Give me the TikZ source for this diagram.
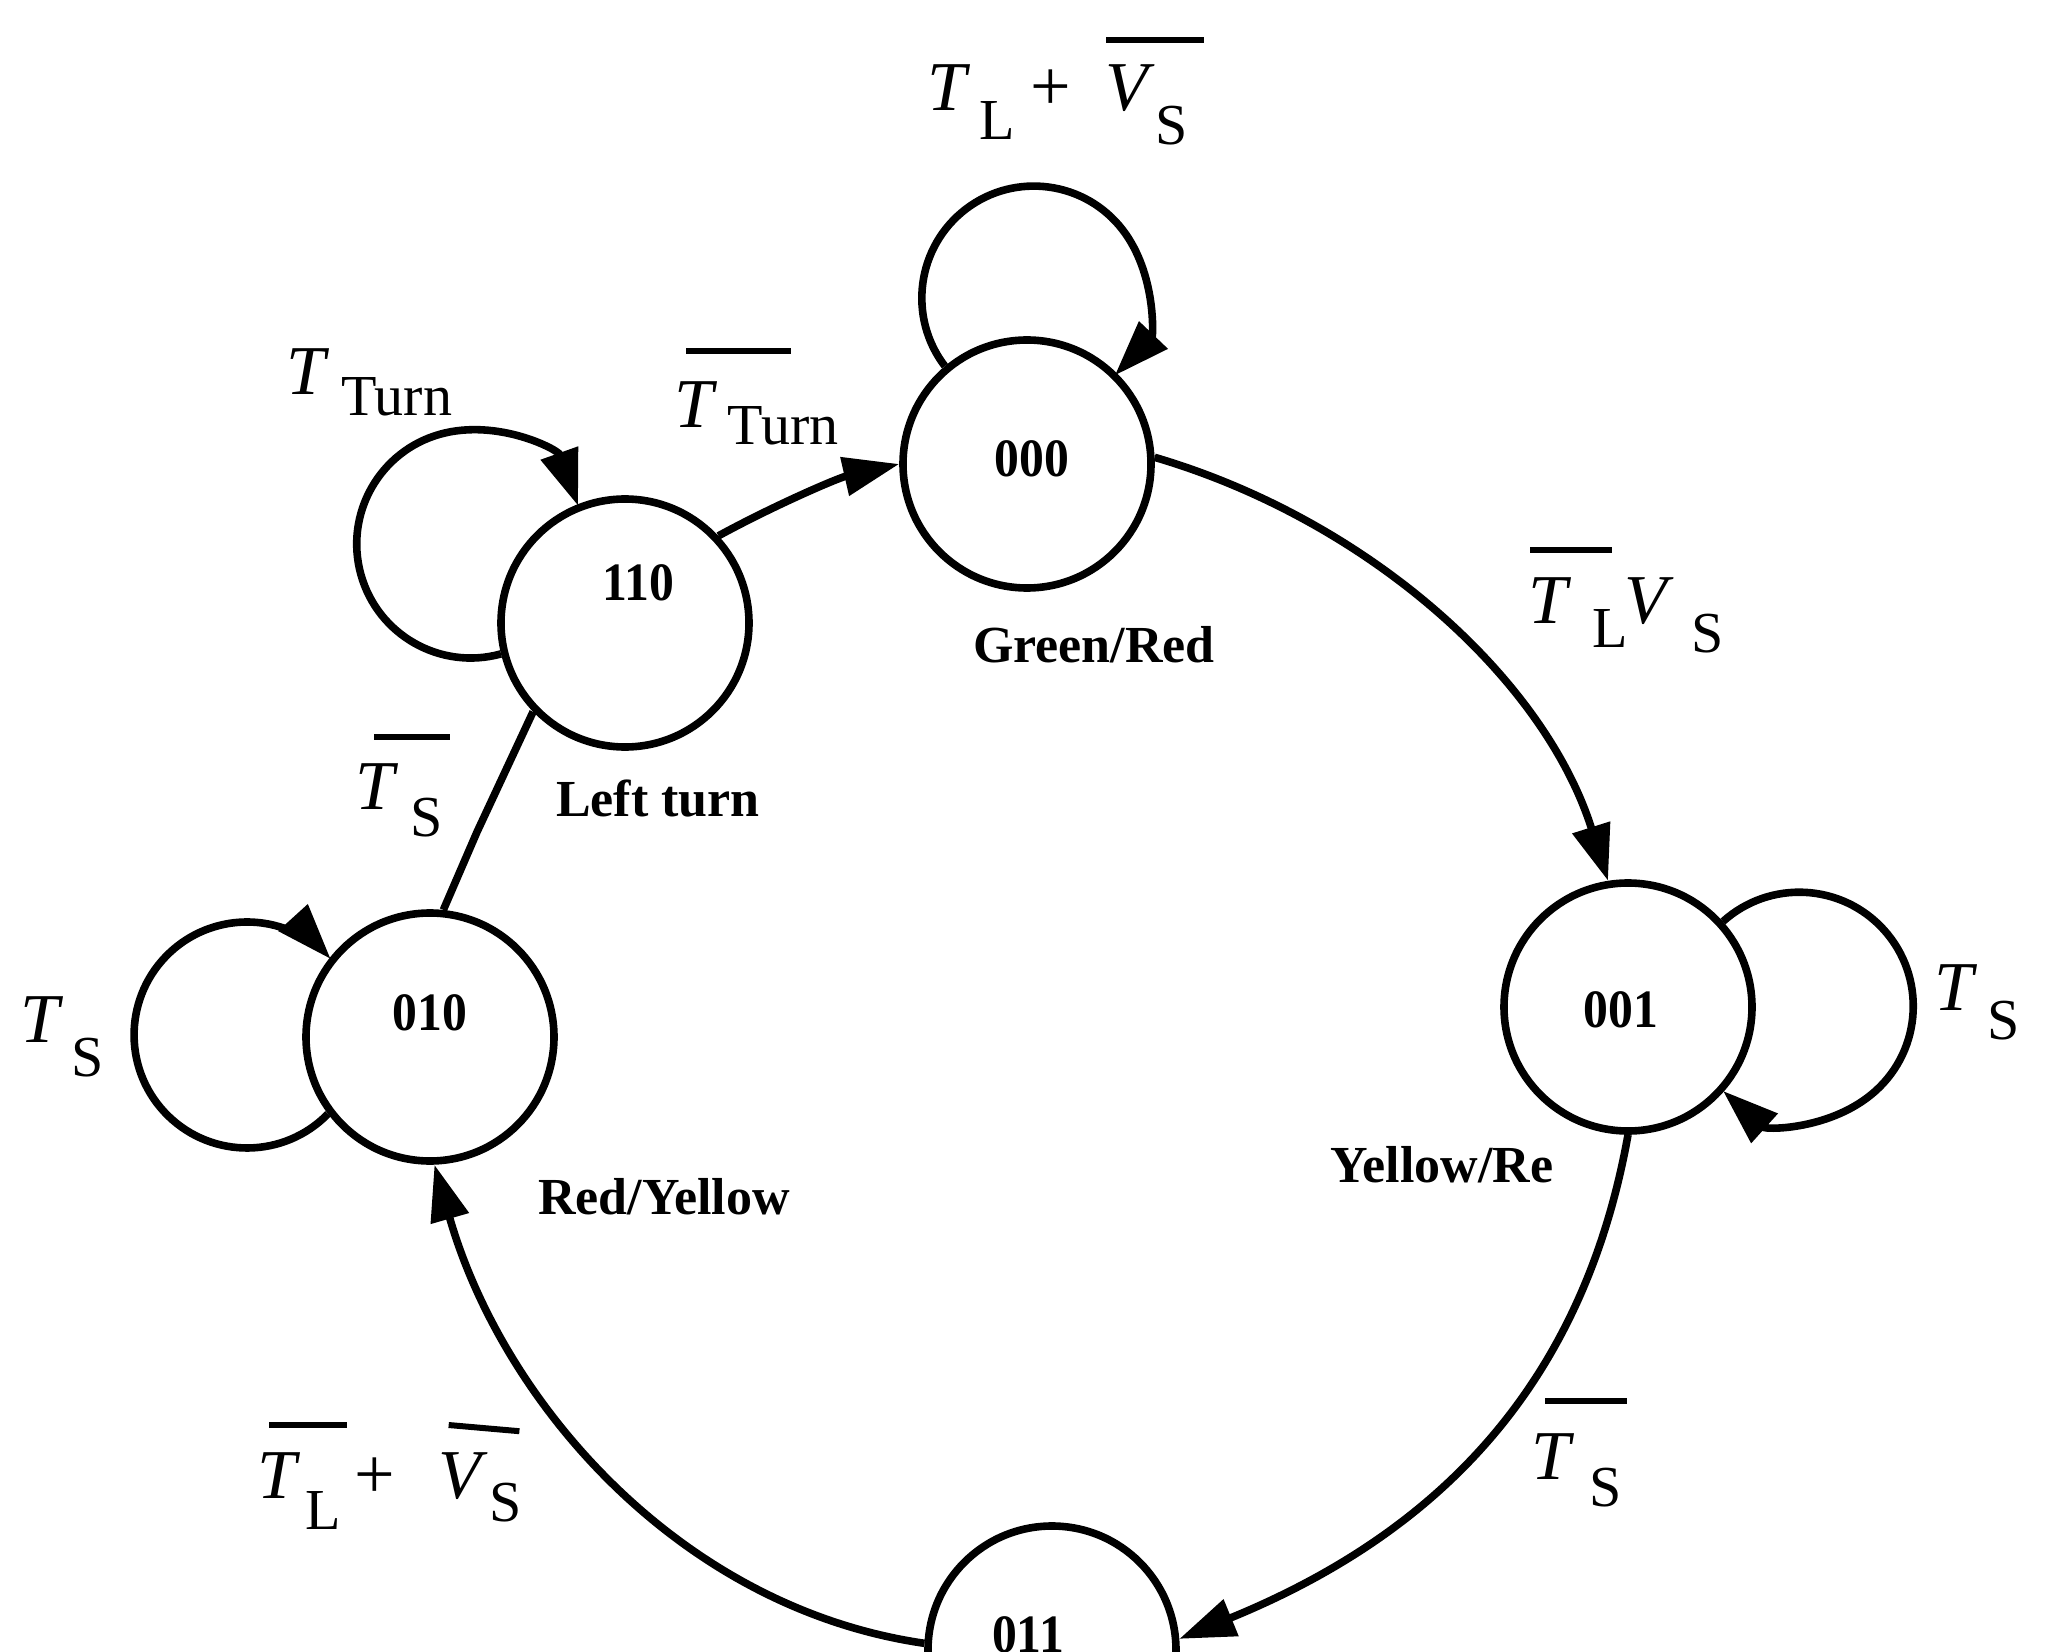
\documentclass[tikz,border=0pt]{standalone}
\usepackage{fontspec}
\usepackage{graphicx}
\setmainfont{Liberation Serif}
\usetikzlibrary{arrows.meta}
\newcommand\pc[3]{\makebox[0pt][l]{\hspace*{#1pt}\raisebox{#2pt}{#3}}}
\newcommand\mT{{\fontsize{35}{35}\selectfont\itshape T}}
\newcommand\mV{{\fontsize{35}{35}\selectfont\itshape V}}
\newcommand\mP{{\fontsize{36}{36}\selectfont +}}
\newcommand\sbx[1]{{\fontsize{29}{29}\selectfont #1}}
\newcommand\obr[1]{\rule{#1pt}{3pt}}
\newcommand\dg[1]{\scalebox{0.92}[1]{#1}}
\begin{document}
\begin{tikzpicture}[x=0.5pt,y=-0.5pt,
  st/.style={circle,draw,line width=3.8pt,minimum size=124pt,inner sep=0pt},
  num/.style={font=\fontsize{27}{27}\selectfont\bfseries,inner sep=0pt},
  nm/.style={font=\fontsize{26}{26}\selectfont\bfseries,inner sep=0pt,anchor=base},
  lab/.style={inner sep=0pt,anchor=base west},
  edge/.style={line width=3.8pt,line join=round},
  arr/.style={-{Triangle[length=28pt,width=19pt]}}]
\useasboundingbox (0,0) rectangle (2062,1652);
\fill[white] (0,0) rectangle (2062,1652);
\clip (0,0) rectangle (2062,1652);

% states
\node[st] (s000) at (1027,464) {};
\node[st] (s110) at (625,623) {};
\node[st] (s001) at (1628,1007) {};
\node[st] (s010) at (430,1037) {};
\node[st] (s011) at (1052,1650) {};

\node[num] (n000) at (1032,459) {\dg{000}};
\node[num] (n110) at (638,583) {\dg{110}};
\node[num] (n001) at (1621,1010) {\dg{001}};
\node[num] (n010) at (430,1013) {\dg{010}};
\node[num] (n011) at (1028,1635) {\dg{011}};

\node[nm] (g000) at (1094,663) {Green/Red};
\node[nm] (g110) at (658,816) {Left turn};
\node[nm] (g001) at (1442,1182) {Yellow/Re};
\node[nm] (g010) at (664,1214) {Red/Yellow};

% connectors
\draw[edge,arr] (s110.43) .. controls (775,505) and (838,478) .. (s000.180);
\draw[edge,arr] (s000.3.6) .. controls (1368,520) and (1544,678) .. (s001.99);
\draw[edge,arr] (s001.-90) .. controls (1581,1397) and (1426,1538) .. (s011.5);
\draw[edge,arr] (s011.177) .. controls (681,1608) and (503,1404) .. (s010.-88);
\coordinate (bend) at (477,832);
\draw[edge] (s110.224) -- (bend) -- (s010.84);

% self loops
\draw[edge,arr] (s000.130) arc[start angle=217.4, end angle=-43.7, radius=56pt];
\draw[edge,arr] (s110.194) arc[start angle=285.4, end angle=19.6, radius=57pt];
\draw[edge,arr] (s010.217.8) arc[start angle=315.7, end angle=42.3, radius=56.5pt];
\draw[edge,arr] (s001.42.7) arc[start angle=132, end angle=-132, radius=57pt];

% labels
\node[lab] (lA) at (926,111) {\pc{0}{0}{\mT}\pc{26}{-14.5}{\sbx{L}}\pc{51.5}{0}{\mP}\pc{89}{0}{\mV}\pc{114}{-17}{\sbx{S}}\pc{89.5}{34}{\obr{49}}};
\node[lab] (lB) at (285,395) {\pc{0}{0}{\mT}\pc{27.5}{-10.5}{\sbx{Turn}}};
\node[lab] (lC) at (673,428) {\pc{0}{0}{\mT}\pc{26.75}{-8.5}{\sbx{Turn}}\pc{6}{37}{\obr{52.5}}};
\node[lab] (lD) at (354,809) {\pc{0}{0}{\mT}\pc{27.5}{-13.5}{\sbx{S}}\pc{9.5}{34.5}{\obr{38}}};
\node[lab] (lE) at (19,1042) {\pc{0}{0}{\mT}\pc{25.5}{-17}{\sbx{S}}};
\node[lab] (lF) at (1933,1010) {\pc{0}{0}{\mT}\pc{26.5}{-14.5}{\sbx{S}}};
\node[lab] (lG) at (1527,624) {\pc{0}{0}{\mT}\pc{32}{-12}{\sbx{L}}\pc{48}{0}{\mV}\pc{81.5}{-14.5}{\sbx{S}}\pc{1}{35.5}{\obr{41}}};
\node[lab] (lH) at (1530,1479) {\pc{0}{0}{\mT}\pc{29}{-13.5}{\sbx{S}}\pc{7}{37.5}{\obr{41}}};
\node[lab] (lI) at (256,1498) {\pc{0}{0}{\mT}\pc{24}{-15.5}{\sbx{L}}\pc{48.5}{0}{\mP}\pc{90.5}{0}{\mV}\pc{116}{-11.5}{\sbx{S}}\pc{6}{35}{\obr{39}}\pc{95.5}{35}{\rotatebox{-5}{\obr{35.5}}}};
\end{tikzpicture}
\end{document}
